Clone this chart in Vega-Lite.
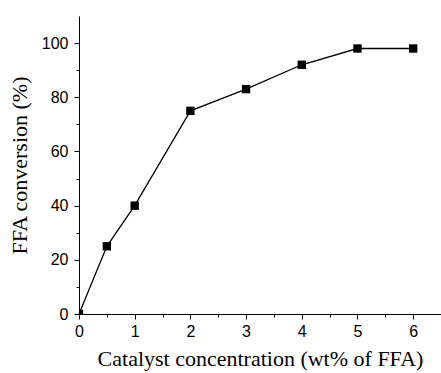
{
  "$schema": "https://vega.github.io/schema/vega-lite/v6.json",
  "width": 362,
  "height": 298,
  "autosize": {"type": "none"},
  "padding": {"left": 79, "top": 16, "right": 0, "bottom": 59},
  "background": "white",
  "config": {"view": {"stroke": null}},
  "data": {"values": [
    {"c": 0, "conv": 0},
    {"c": 0.5, "conv": 25},
    {"c": 1, "conv": 40},
    {"c": 2, "conv": 75},
    {"c": 3, "conv": 83},
    {"c": 4, "conv": 92},
    {"c": 5, "conv": 98},
    {"c": 6, "conv": 98}
  ]},
  "encoding": {
    "x": {"field": "c", "type": "quantitative",
      "scale": {"domain": [0, 6.5], "nice": false, "zero": false},
      "axis": {
        "title": "Catalyst concentration (wt% of FFA)",
        "titleFont": "Liberation Serif", "titleFontSize": 22, "titleFontWeight": "normal", "titleColor": "black",
        "titlePadding": 9,
        "values": [0, 0.5, 1, 1.5, 2, 2.5, 3, 3.5, 4, 4.5, 5, 5.5, 6, 6.5],
        "format": ".1f",
        "labelExpr": "datum.value % 1 === 0 ? format(datum.value, 'd') : ''",
        "labelFont": "Liberation Sans", "labelFontSize": 16, "labelColor": "black",
        "labelPadding": 4,
        "tickSize": {"condition": {"test": "datum.value % 1 !== 0", "value": 3}, "value": 5},
        "tickColor": "black", "domainColor": "black", "grid": false, "labelFlush": false, "labelOverlap": false
      }},
    "y": {"field": "conv", "type": "quantitative",
      "scale": {"domain": [0, 110], "nice": false},
      "axis": {
        "title": "FFA conversion (%)",
        "titleFont": "Liberation Serif", "titleFontSize": 22, "titleFontWeight": "normal", "titleColor": "black",
        "titlePadding": 10,
        "values": [0, 10, 20, 30, 40, 50, 60, 70, 80, 90, 100],
        "format": "d",
        "labelExpr": "datum.value % 20 === 0 ? datum.label : ''",
        "labelFont": "Liberation Sans", "labelFontSize": 16, "labelColor": "black",
        "labelPadding": 6,
        "tickSize": {"condition": {"test": "datum.value % 20 !== 0", "value": 3}, "value": 5},
        "tickColor": "black", "domainColor": "black", "grid": false, "labelFlush": false, "labelOverlap": false
      }}
  },
  "layer": [
    {"mark": {"type": "line", "color": "black", "strokeWidth": 1.3}},
    {"mark": {"type": "square", "color": "black", "opacity": 1, "filled": true, "size": 70, "clip": true}}
  ]
}
